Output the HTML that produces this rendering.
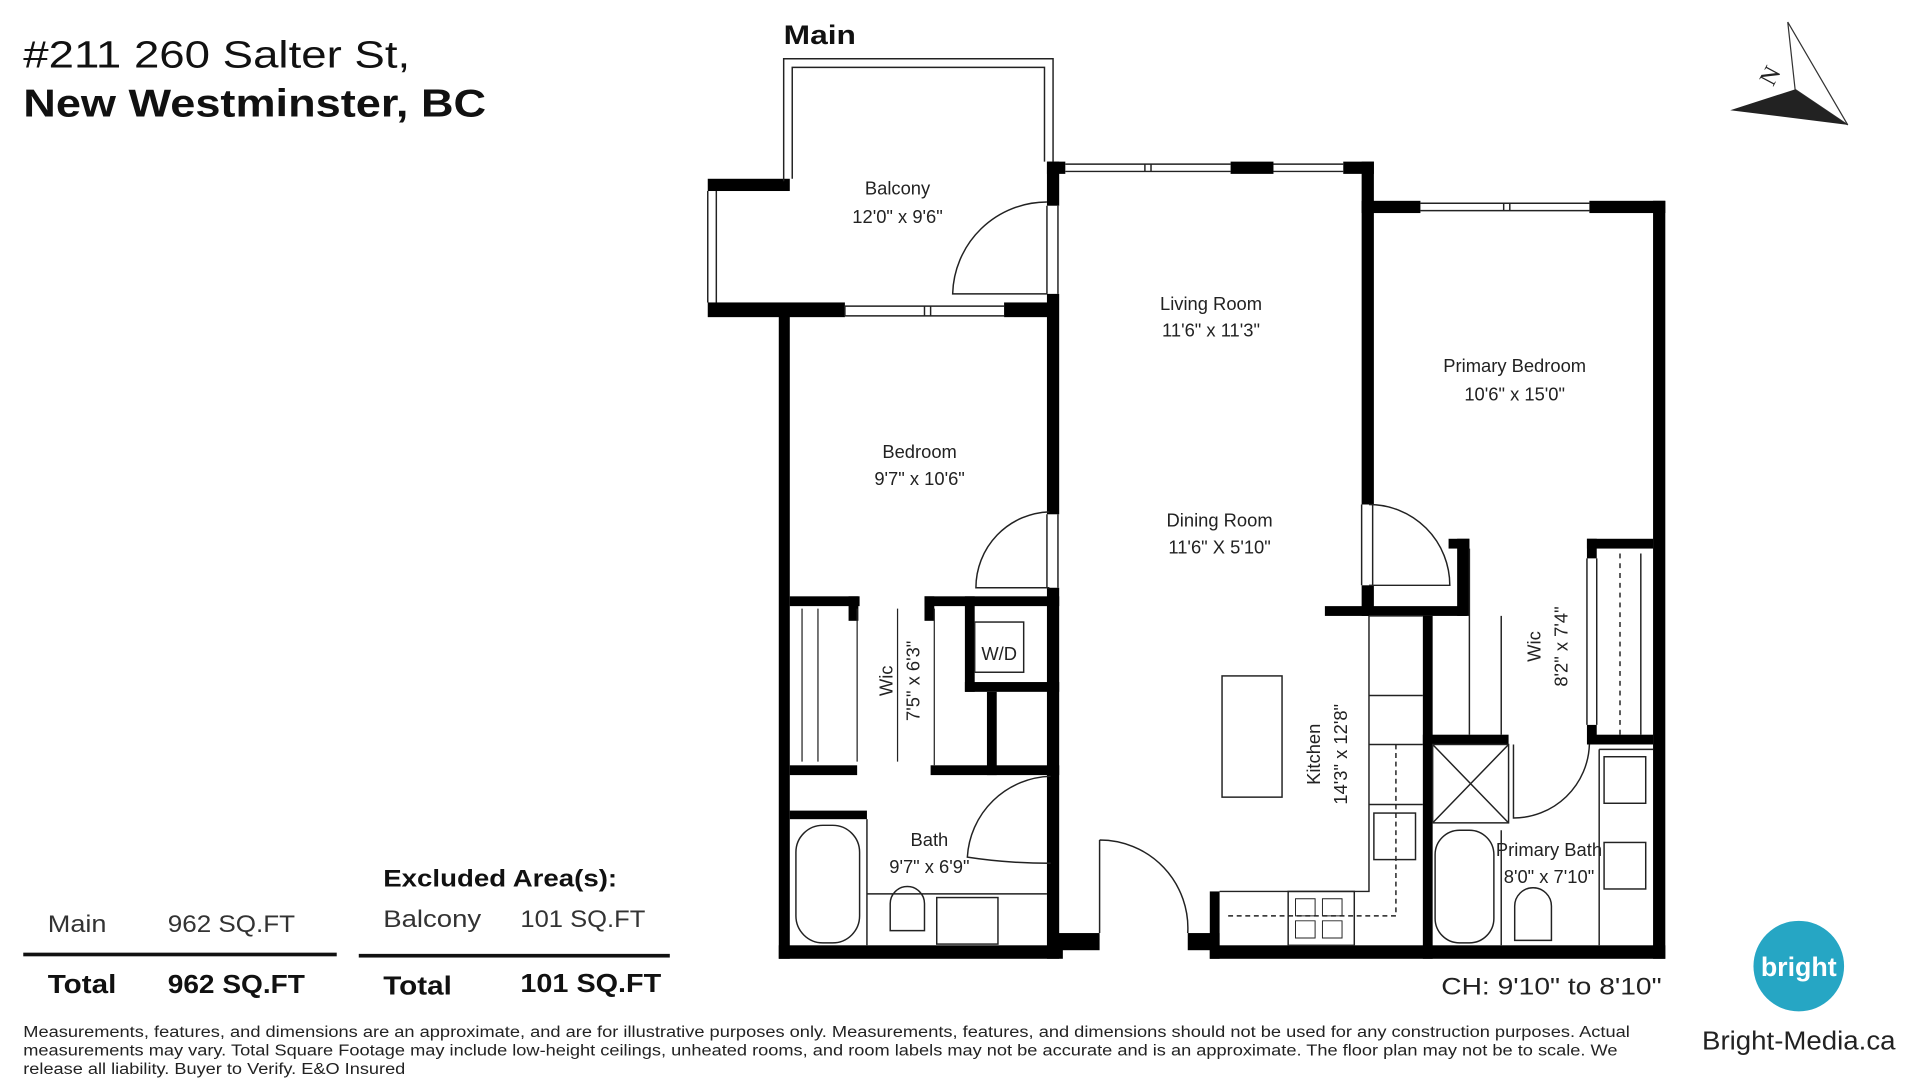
<!DOCTYPE html>
<html><head><meta charset="utf-8"><style>html,body{margin:0;padding:0;background:#fff}svg{display:block}</style></head>
<body>
<svg width="1920" height="1080" viewBox="0 0 1568 882" preserveAspectRatio="none" xmlns="http://www.w3.org/2000/svg" font-family="Liberation Sans, sans-serif">
<rect width="1568" height="882" fill="#fff"/>
<!-- header -->
<text x="19" y="55" font-size="31" fill="#111" textLength="316" lengthAdjust="spacingAndGlyphs">#211 260 Salter St,</text>
<text x="19" y="95" font-size="32" font-weight="bold" fill="#111" textLength="378" lengthAdjust="spacingAndGlyphs">New Westminster, BC</text>
<text x="640" y="36" font-size="22" font-weight="bold" fill="#111" textLength="59" lengthAdjust="spacingAndGlyphs">Main</text>
<!-- compass -->
<polygon points="1460,18 1509,102 1466,73" fill="#fff" stroke="#333" stroke-width="1"/>
<polygon points="1413,90 1466,73 1509,102" fill="#222"/>
<text x="1440" y="70" font-size="20" font-family="Liberation Serif, serif" fill="#222" transform="rotate(-62 1445 64)">N</text>

<g fill="#000">
<!-- balcony -->
<rect x="578" y="146" width="67" height="10"/>
<rect x="578" y="247" width="112" height="12"/>
<rect x="820" y="247" width="40" height="12"/>
<!-- unit outer walls -->
<rect x="636" y="255" width="9" height="528"/>
<rect x="855" y="132" width="10" height="36"/>
<rect x="855" y="240" width="10" height="180"/>
<rect x="855" y="480" width="10" height="303"/>
<rect x="855" y="132" width="15" height="10"/>
<rect x="1005" y="132" width="35" height="10"/>
<rect x="1097" y="132" width="25" height="10"/>
<rect x="1112" y="132" width="10" height="280"/>
<rect x="1112" y="478" width="10" height="25"/>
<rect x="1112" y="164" width="48" height="10"/>
<rect x="1298" y="164" width="62" height="10"/>
<rect x="1350" y="164" width="10" height="619"/>
<rect x="636" y="772" width="232" height="11"/>
<rect x="860" y="762" width="38" height="14"/>
<rect x="970" y="762" width="26" height="14"/>
<rect x="988" y="728" width="8" height="55"/>
<rect x="988" y="772" width="372" height="11"/>
<!-- bedroom bottom / wic / wd -->
<rect x="645" y="487" width="57" height="8"/>
<rect x="693" y="487" width="8" height="20"/>
<rect x="755" y="487" width="110" height="8"/>
<rect x="755" y="487" width="8" height="20"/>
<rect x="788" y="487" width="8" height="78"/>
<rect x="788" y="557" width="77" height="8"/>
<rect x="806" y="565" width="8" height="68"/>
<rect x="645" y="625" width="55" height="8"/>
<rect x="760" y="625" width="105" height="8"/>
<rect x="645" y="662" width="63" height="7"/>
<!-- kitchen / primary -->
<rect x="1082" y="495" width="116" height="8"/>
<rect x="1190" y="440" width="10" height="63"/>
<rect x="1183" y="440" width="17" height="8"/>
<rect x="1162" y="503" width="8" height="280"/>
<rect x="1296" y="440" width="8" height="16"/>
<rect x="1296" y="592" width="8" height="16"/>
<rect x="1296" y="440" width="54" height="8"/>
<rect x="1162" y="600" width="70" height="8"/>
<rect x="1298" y="600" width="52" height="8"/>
</g>
<g fill="none" stroke="#222" stroke-width="1.2">
<!-- balcony thin -->
<path d="M640,148 V48 H860 V132 M647,146 V55 H853 V132"/>
<path d="M578,156 V247 M585,156 V247"/>
<!-- door-gap thin lines -->
<path d="M855,168 V240 M864,168 V240 M855,420 V480 M864,420 V480 M1112,412 V478 M1121,412 V478"/>
<!-- windows -->
<path d="M690,250 H820 M690,258 H820 M755,250 V258 M760,250 V258 M690,250 V258"/>
<path d="M870,134 H1005 M870,140 H1005 M935,134 V140 M940,134 V140 M1040,134 H1097 M1040,140 H1097"/>
<path d="M1160,166 H1298 M1160,172 H1298 M1228,166 V172 M1233,166 V172"/>
<!-- doors -->
<path d="M855,165 A77,77 0 0 0 778,240 H855"/>
<path d="M857,418 A62,62 0 0 0 797,480 H857"/>
<path d="M1118,412 A66,66 0 0 1 1184,478 H1118"/>
<path d="M858,634 A70,70 0 0 0 790,700 Q822,705 858,705"/>
<path d="M898,686 A72,72 0 0 1 970,762 M898,686 V762"/>
<path d="M1236,608 V668 A62,62 0 0 0 1298,608"/>
<!-- wic closets -->
<path d="M655,497 V622 M668,497 V622 M700,497 V622 M763,497 V625 M733,497 V622" stroke-width="1"/>
<path d="M1200,448 V600 M1226,503 V600 M1296,456 V592 M1304,456 V592 M1340,452 V600"/>
<path d="M1323,452 V600" stroke-dasharray="4,4"/>
<!-- W/D -->
<rect x="796" y="508" width="40" height="41"/>
<!-- island -->
<rect x="998" y="552" width="49" height="99"/>
<!-- kitchen counters -->
<path d="M1118,503 V728 H996 M1118,503 H1162 M1118,568 H1162 M1118,608 H1162 M1118,657 H1162"/>
<path d="M1140,608 V748 H1000" stroke-dasharray="4,3"/>
<rect x="1122" y="664" width="34" height="38"/>
<rect x="1052" y="728" width="54" height="44"/>
<path d="M1058,734 h16 v14 h-16z M1080,734 h16 v14 h-16z M1058,752 h16 v14 h-16z M1080,752 h16 v14 h-16z" stroke-width="0.8"/>
<!-- bath -->
<rect x="650" y="674" width="52" height="96" rx="22"/>
<path d="M708,669 V772 M708,730 H855"/>
<rect x="765" y="733" width="50" height="38"/>
<path d="M727,760 V738 A14,14 0 0 1 755,738 V760 Z"/>
<!-- primary bath -->
<rect x="1170" y="608" width="62" height="64"/>
<path d="M1170,608 L1232,672 M1232,608 L1170,672"/>
<rect x="1172" y="678" width="48" height="92" rx="20"/>
<path d="M1226,678 V772 M1306,612 V772 M1306,612 H1350"/>
<rect x="1310" y="618" width="34" height="38"/>
<rect x="1310" y="688" width="34" height="38"/>
<path d="M1237,768 V740 A15,15 0 0 1 1267,740 V768 Z"/>
</g>
<!-- room labels -->
<g font-size="15" fill="#222" text-anchor="middle">
<text x="733" y="159">Balcony</text><text x="733" y="182">12'0" x 9'6"</text>
<text x="989" y="253">Living Room</text><text x="989" y="275">11'6" x 11'3"</text>
<text x="1237" y="304">Primary Bedroom</text><text x="1237" y="327">10'6" x 15'0"</text>
<text x="751" y="374">Bedroom</text><text x="751" y="396">9'7" x 10'6"</text>
<text x="996" y="430">Dining Room</text><text x="996" y="452">11'6" X 5'10"</text>
<text x="759" y="691">Bath</text><text x="759" y="713">9'7" x 6'9"</text>
<text x="1265" y="699">Primary Bath</text><text x="1265" y="721">8'0" x 7'10"</text>
<text x="816" y="539">W/D</text>
<text transform="translate(729,556) rotate(-90)">Wic</text>
<text transform="translate(751,556) rotate(-90)">7'5" x 6'3"</text>
<text transform="translate(1078,616) rotate(-90)">Kitchen</text>
<text transform="translate(1100,616) rotate(-90)">14'3" x 12'8"</text>
<text transform="translate(1258,528) rotate(-90)">Wic</text>
<text transform="translate(1280,528) rotate(-90)">8'2" x 7'4"</text>
</g>
<!-- areas -->
<g fill="#111">
<text x="313" y="724" font-size="20" font-weight="bold" textLength="191" lengthAdjust="spacingAndGlyphs">Excluded Area(s):</text>
<text x="39" y="761" font-size="20" fill="#333" textLength="48" lengthAdjust="spacingAndGlyphs">Main</text>
<text x="137" y="761" font-size="20" fill="#333" textLength="104" lengthAdjust="spacingAndGlyphs">962 SQ.FT</text>
<text x="313" y="757" font-size="20" fill="#333" textLength="80" lengthAdjust="spacingAndGlyphs">Balcony</text>
<text x="425" y="757" font-size="20" fill="#333" textLength="102" lengthAdjust="spacingAndGlyphs">101 SQ.FT</text>
<rect x="19" y="778" width="256" height="3"/>
<rect x="293" y="779" width="254" height="3"/>
<text x="39" y="811" font-size="21" font-weight="bold" textLength="56" lengthAdjust="spacingAndGlyphs">Total</text>
<text x="137" y="811" font-size="21" font-weight="bold" textLength="112" lengthAdjust="spacingAndGlyphs">962 SQ.FT</text>
<text x="313" y="812" font-size="21" font-weight="bold" textLength="56" lengthAdjust="spacingAndGlyphs">Total</text>
<text x="425" y="810" font-size="21" font-weight="bold" textLength="115" lengthAdjust="spacingAndGlyphs">101  SQ.FT</text>
<text x="1177" y="812" font-size="20" fill="#222" textLength="180" lengthAdjust="spacingAndGlyphs">CH: 9'10" to 8'10"</text>
<g font-size="13" fill="#222">
<text x="19" y="847" textLength="1312" lengthAdjust="spacingAndGlyphs">Measurements, features, and dimensions are an approximate, and are for illustrative purposes only. Measurements, features, and dimensions should not be used for any construction purposes. Actual</text>
<text x="19" y="862" textLength="1302" lengthAdjust="spacingAndGlyphs">measurements may vary. Total Square Footage may include low-height ceilings, unheated rooms, and room labels may not be accurate and is an approximate. The floor plan may not be to scale. We</text>
<text x="19" y="877" textLength="312" lengthAdjust="spacingAndGlyphs">release all liability. Buyer to Verify. E&amp;O Insured</text>
</g>
</g>
<!-- logo -->
<circle cx="1469" cy="789" r="37" fill="#26a6c4"/>
<text x="1469" y="797" font-size="22" font-weight="bold" fill="#fff" text-anchor="middle" textLength="62" lengthAdjust="spacingAndGlyphs">bright</text>
<text x="1390" y="857" font-size="21" fill="#222" textLength="158" lengthAdjust="spacingAndGlyphs">Bright-Media.ca</text>
</svg>
</body></html>
